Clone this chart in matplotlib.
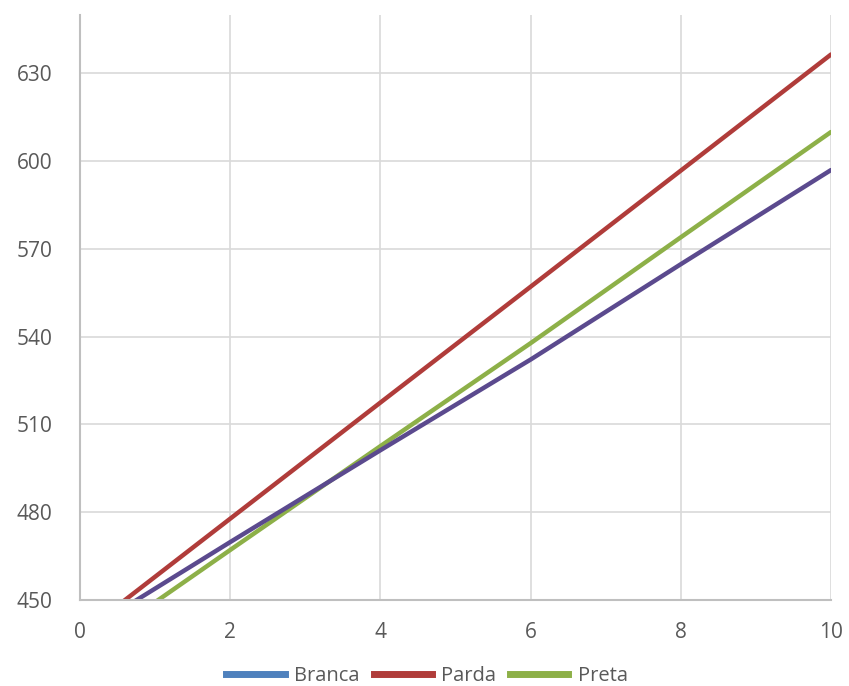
import matplotlib
matplotlib.use('Agg')
import matplotlib.pyplot as plt
from matplotlib.lines import Line2D

x = [0, 2, 4, 6, 8, 10]
branca = [438.0, 469.8, 501.2, 532.2, 564.8, 597.0]
parda = [438.1, 477.8, 517.5, 557.1, 596.8, 636.5]
preta = [431.4, 467.1, 502.6, 537.8, 574.0, 610.0]
names = ['Branca', 'Parda', 'Preta']
colors = ['#4F81BD', '#B03C3A', '#8DB048']
branca_line = '#5B4A8E'

plt.rcParams['font.family'] = ['Open Sans', 'DejaVu Sans']

fig = plt.figure(figsize=(8.49, 6.86), dpi=100)
ax = fig.add_axes([80/849, 1-600/686, 751/849, 585/686])

ax.plot(x, parda, color=colors[1], lw=3.2, solid_capstyle='round')
ax.plot(x, preta, color=colors[2], lw=3.2, solid_capstyle='round')
ax.plot(x, branca, color=branca_line, lw=3.2, solid_capstyle='round')

ax.set_xlim(0, 10)
ax.set_ylim(450, 650)
ax.set_xticks(range(0, 11, 2))
ax.set_yticks(range(450, 631, 30))
ax.grid(True, color='#D9D9D9', lw=1.2)
ax.set_axisbelow(True)
for s in ['top', 'right']:
  ax.spines[s].set_visible(False)
for s in ['left', 'bottom']:
  ax.spines[s].set_color('#BFBFBF')
  ax.spines[s].set_linewidth(1.5)
ax.tick_params(length=0, labelsize=15, labelcolor='#595959')
ax.tick_params(axis='y', pad=20)
ax.tick_params(axis='x', pad=16)

handles = [Line2D([], [], color=c, lw=5) for c in colors]
fig.legend(handles, names, loc='center', bbox_to_anchor=(427/849, 1-676/686),
           ncol=3, frameon=False, fontsize=14.5, handlelength=2.9,
           columnspacing=0.7, handletextpad=0.45, labelcolor='#595959')

fig.savefig('out.png', dpi=100)
